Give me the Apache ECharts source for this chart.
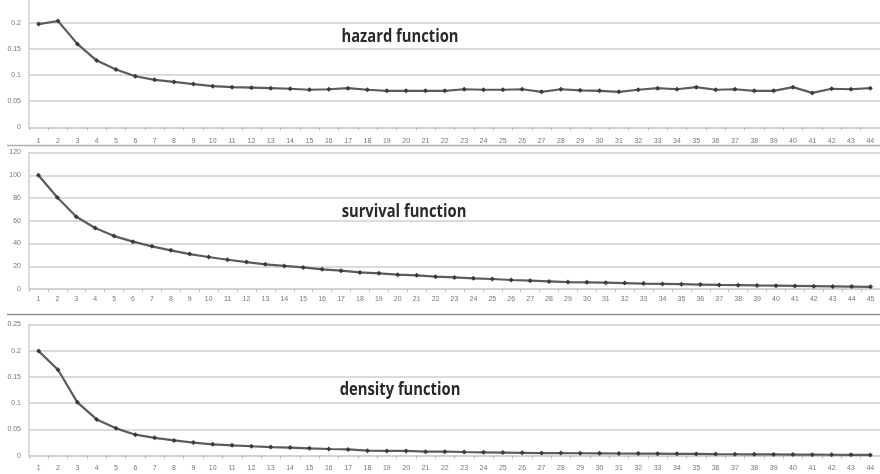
<!DOCTYPE html>
<html>
<head>
<meta charset="utf-8">
<script src="https://cdn.jsdelivr.net/npm/echarts@6/dist/echarts.min.js"></script>
<style>html,body{margin:0;padding:0;background:#fff;overflow:hidden}#c{width:880px;height:477px;margin-top:-3px}</style>
</head>
<body>
<div id="c"></div>
<script>
const hazardCats = Array.from({length:44},(_, i)=>String(i+1));
const survivalCats = Array.from({length:45},(_, i)=>String(i+1));
const densityCats = Array.from({length:44},(_, i)=>String(i+1));

const hazard = [0.198,0.204,0.160,0.128,0.111,0.098,0.091,0.087,0.083,0.079,0.077,0.076,0.075,0.074,
  0.072,0.073,0.075,0.072,0.070,0.070,0.070,0.070,0.073,0.072,0.072,0.073,0.068,0.073,0.071,0.070,
  0.068,0.072,0.075,0.073,0.077,0.072,0.073,0.070,0.070,0.077,0.066,0.074,0.073,0.075];
const survival = [100,80.5,63.5,53.6,46.5,41.6,37.5,34.0,30.7,28.1,25.7,23.7,21.7,20.3,
  19.0,17.3,16.1,14.6,13.8,12.6,12.0,10.8,10.2,9.4,8.8,7.9,7.3,6.7,6.1,5.9,
  5.6,5.2,4.8,4.5,4.2,3.9,3.6,3.4,3.1,2.9,2.7,2.5,2.3,2.1,1.9];
const density = [0.199,0.1635,0.1015,0.069,0.052,0.040,0.034,0.029,0.025,0.0217,0.0197,0.018,0.0165,0.0155,
  0.014,0.0127,0.012,0.0095,0.009,0.009,0.0076,0.0076,0.007,0.0065,0.006,0.0055,0.005,0.005,0.0047,0.0045,
  0.0042,0.004,0.0038,0.0035,0.0033,0.003,0.0028,0.0026,0.0024,0.0022,0.002,0.0018,0.0016,0.0015];
const titles = ['hazard function','survival function','density function'];

const chart = echarts.init(document.getElementById('c'));
const gridLine = {show:true, lineStyle:{color:'#cfcfcf', width:1.5}};
const axisLab = {fontSize:7, color:'#777', fontFamily:'Liberation Sans'};
function xAx(idx, cats, margin){
  return {type:'category', gridIndex:idx, data:cats, boundaryGap:true,
    axisLine:{lineStyle:{color:'#cfcfcf', width:1.5}},
    axisTick:{show:true, length:3, lineStyle:{color:'#bbb'}},
    axisLabel:Object.assign({margin:margin, interval:0}, axisLab)};
}
function yAx(idx, max, interval, fmt, showMax){
  return {type:'value', gridIndex:idx, min:0, max:max, interval:interval,
    axisLine:{show:true, lineStyle:{color:'#cfcfcf', width:1.5}},
    axisTick:{show:false}, splitLine:gridLine,
    axisLabel:Object.assign({margin:8, formatter:fmt, showMaxLabel:showMax}, axisLab)};
}
const fmtDec = v => v===0 ? '0' : String(+v.toFixed(2));
function ser(idx, data){
  return {type:'line', xAxisIndex:idx, yAxisIndex:idx, data:data,
    symbol:'diamond', symbolSize:5, showSymbol:true,
    lineStyle:{color:'#5c5c5c', width:2.2},
    itemStyle:{color:'#3a3a3a'}, animation:false};
}
const titleFont = '700 18px "Open Sans"';
chart.setOption({
  animation:false,
  grid:[
    {left:29, top:0, width:860, height:130.3},
    {left:29, top:155.5, width:856, height:136.5},
    {left:29, top:327.3, width:856, height:131.4}
  ],
  xAxis:[xAx(0,hazardCats,10), xAx(1,survivalCats,7), xAx(2,densityCats,9)],
  yAxis:[yAx(0,0.25,0.05,fmtDec,false), yAx(1,120,20,v=>String(v),true), yAx(2,0.25,0.05,fmtDec,true)],
  series:[ser(0,hazard), ser(1,survival), ser(2,density)],
  graphic:[
    {type:'line', shape:{x1:7,y1:148.5,x2:880,y2:148.5}, style:{stroke:'#b0b0b0', lineWidth:1.5}},
    {type:'line', shape:{x1:7,y1:317.5,x2:880,y2:317.5}, style:{stroke:'#909090', lineWidth:1.5}},
    {type:'text', x:400, y:40, scaleX:0.82, style:{text:titles[0], textAlign:'center', textVerticalAlign:'middle', font:titleFont, fill:'#2a2a2a'}},
    {type:'text', x:404, y:215, scaleX:0.82, style:{text:titles[1], textAlign:'center', textVerticalAlign:'middle', font:titleFont, fill:'#2a2a2a'}},
    {type:'text', x:400, y:393, scaleX:0.82, style:{text:titles[2], textAlign:'center', textVerticalAlign:'middle', font:titleFont, fill:'#2a2a2a'}}
  ]
});
</script>
</body>
</html>
